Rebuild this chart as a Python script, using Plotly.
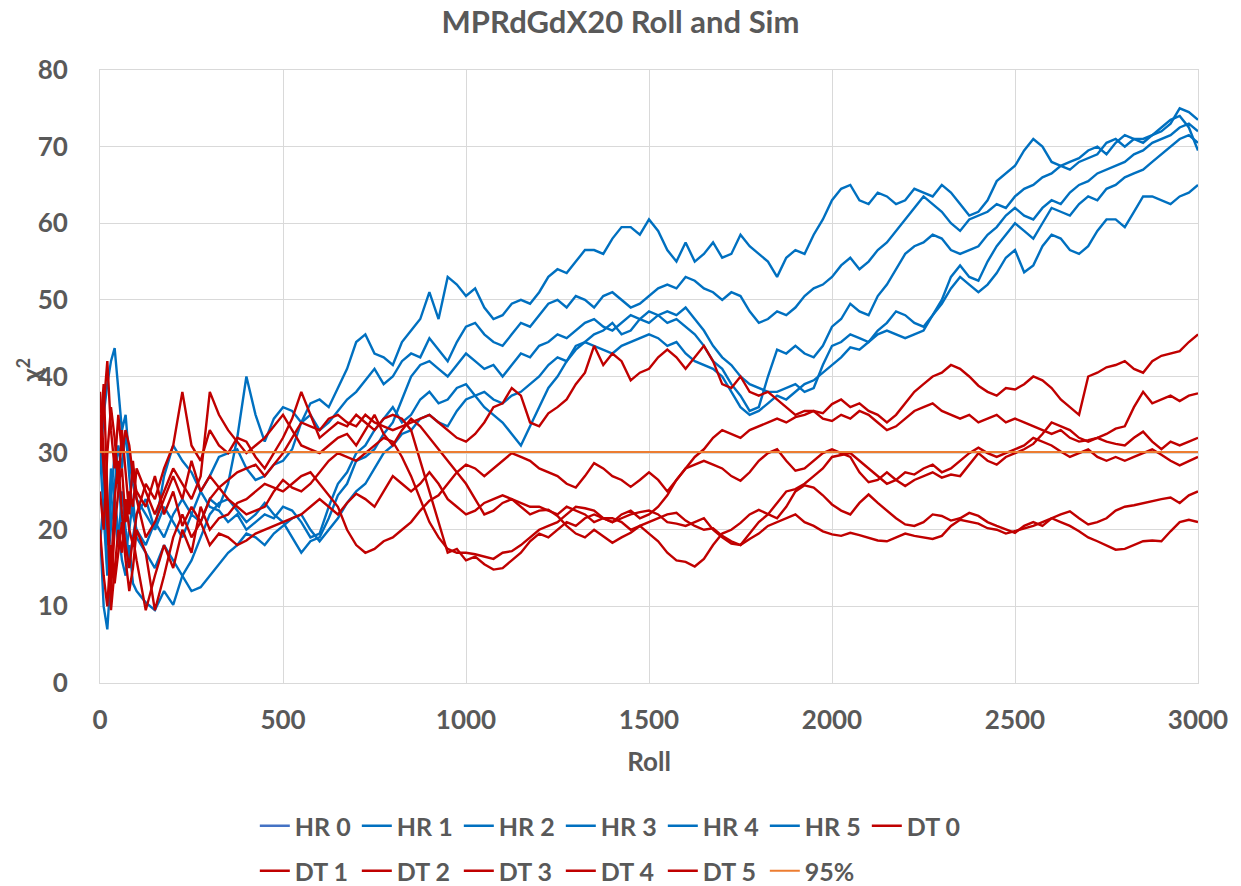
import plotly.graph_objects as go

rolls = [0, 10, 20, 30, 40, 50, 60, 70, 80, 90, 100, 125, 150, 175, 200, 225, 250, 275, 300] \
        + list(range(325, 3001, 25))

hr0 = []  # listed in the legend, no visible line in the reference

hr1 = [18, 24, 15, 20, 26, 31, 28, 33, 27, 22, 20, 18, 21, 19, 22, 24, 22, 25, 27,
       29.5, 30, 30.5, 28, 26.5, 27, 28.5, 29, 30.5, 34, 36.5, 37, 36, 38.5, 41, 44.5, 45.5, 43, 42.5, 41.5,
       44.5, 46, 47.5, 51, 47.5, 53, 52, 50.5,
       51.5, 49, 47.5, 48, 49.5, 50, 49.5, 51, 53, 54, 53.5, 55, 56.5, 56.5, 56, 58, 59.5, 59.5, 58.5, 60.5,
       59, 56.5, 55, 57.5, 55, 56, 57.5, 55.5, 56, 58.5, 57, 56, 55, 53, 55.5, 56.5, 56, 58.5, 60.5, 63,
       64.5, 65, 63, 62.5, 64, 63.5, 62.5, 63, 64.5, 64, 63.5, 65, 64, 62.5, 61, 61.5, 63, 65.5, 66.5, 67.5,
       69.5, 71, 70, 68, 67.5, 67, 68, 68.5, 69, 70.5, 71, 70, 71, 71, 71.5, 72.5, 73.5, 74, 72.5, 69.5]

hr2 = [28, 35, 39, 42, 43.7, 38, 33, 35, 29, 26, 24, 22, 20, 23, 21, 19, 22, 21, 24,
       23, 26, 32, 40, 35, 31.5, 34.5, 36, 35.5, 34, 35, 33, 34, 35.5, 37, 38, 39.5, 41, 39, 40,
       42, 43, 42.5, 45, 43.5, 42, 44.5, 46.5,
       47, 45.5, 44.5, 44, 45.5, 47, 46.5, 48, 49.5, 50, 49, 50.5, 50, 49, 50.5, 51, 50, 49, 49.5, 50.5,
       51.5, 52, 51.5, 53, 52.5, 51.5, 51, 50, 51, 50.5, 48.5, 47, 47.5, 48.5, 48, 49, 50.5, 51.5, 52, 53,
       54.5, 55.5, 54, 55, 56.5, 57.5, 59, 60.5, 62, 63.5, 62.5, 61.5, 60, 59, 60.5, 61, 61.5, 62.5, 62, 63.5,
       64.5, 65, 66, 66.5, 67.5, 68, 68.5, 69.5, 70, 69, 70.5, 71.5, 71, 70.5, 71.5, 72, 73, 75, 74.5, 73.5]

hr3 = [20, 10, 7, 15, 22, 18, 25, 20, 16, 19, 22, 24, 20, 27, 31, 29, 27.5, 25, 23,
       22.5, 21, 22, 20, 21, 22, 21.5, 23, 22.5, 21, 19, 19.5, 23, 26, 27.5, 30, 31, 33, 34.5, 36,
       34, 35, 37, 38, 36.5, 37, 38.5, 39,
       37.5, 36, 35, 34, 32.5, 31, 33.5, 36, 38.5, 40, 42, 44, 44.5, 45.5, 46, 47, 45.5, 46, 47.5, 48.5,
       48, 47, 47.5, 46.5, 45.5, 44, 42, 41, 39, 37.5, 35.5, 36, 40, 43.5, 43, 44, 43, 42.5, 44, 46.5,
       47.5, 49.5, 48.5, 48, 50.5, 52, 54, 56, 57, 57.5, 58.5, 58, 56.5, 56, 56.5, 57, 58.5, 59.5, 61, 62,
       61, 60.5, 62, 63, 62.5, 64, 65, 65.5, 66.5, 67, 67.5, 68, 69, 69.5, 70.5, 71, 71.5, 72.5, 73, 72]

hr4 = [35, 26, 18, 28, 24, 20, 16, 14, 18, 13, 12, 10.5, 9.5, 12, 10.2, 14, 16, 19, 22,
       23.5, 24, 22.5, 21, 22, 23.5, 22, 21, 19, 17, 18.5, 19, 21.5, 24.5, 26, 29, 29.5, 30.5, 32.5, 34,
       37, 40, 41.5, 42, 41, 40, 41.5, 43,
       42, 41, 41.5, 40, 41.5, 43, 42.5, 44, 44.5, 45.5, 45, 46, 47, 47.5, 46.5, 46, 47, 48, 47.5, 47,
       48, 48.5, 48, 49, 47.5, 46, 44, 42.5, 41.5, 40, 39, 38.5, 38, 38, 38.5, 39, 38, 38.5, 41.5, 44,
       44.5, 45.5, 45, 44.5, 46, 47, 48.5, 48, 47, 46.5, 48, 50, 53, 54.5, 53, 52.5, 55, 57, 58.5, 60,
       59, 58, 60, 62, 61.5, 61, 62.5, 63.5, 63, 64.5, 65, 66, 66.5, 67, 68, 69, 70, 71, 71.5, 70.5]

hr5 = [30, 22, 14, 24, 30, 26, 21, 17, 20, 24, 19, 17, 15, 18, 16, 14, 12, 12.5, 14,
       15.5, 17, 18, 19.5, 19, 18, 19.5, 20.5, 21.5, 22, 20, 18.5, 20, 21.5, 23.5, 25, 26, 28, 30, 31,
       32.5, 33, 34.5, 35, 34, 33.5, 35.5, 37,
       37.5, 38, 37, 36.5, 37.5, 38, 39, 40, 41.5, 42.5, 42, 43.5, 44.5, 44, 43.5, 43, 44, 44.5, 45, 45.5,
       45, 44, 44.5, 43, 42, 41.5, 41, 40, 38, 36, 35, 35.5, 36.5, 37.5, 37, 38, 39, 39.5, 40.5, 41.5,
       42.5, 43.8, 43.5, 44.5, 45.5, 46, 45.5, 45, 45.5, 46, 48, 49.5, 51.5, 53, 52, 51, 52, 53.5, 55.5, 56.5,
       53.6, 54.5, 57, 58.5, 58, 56.5, 56, 57, 59, 60.5, 60.5, 59.5, 61.5, 63.5, 63.5, 63, 62.5, 63.5, 64, 65]

dt0 = [30, 36, 42, 33, 28, 35, 30, 33, 31, 27, 25, 23, 27, 22, 25, 20.5, 23, 21, 24,
       25.5, 26.5, 27.5, 28, 28.5, 27, 28.5, 30, 32, 34, 33.5, 33, 34.5, 35, 34, 33.5, 35, 34, 33.5, 33,
       33.5, 34, 34.5, 35, 34, 33, 32, 31.5,
       32.5, 34, 36, 36.5, 38.5, 37.5, 34, 33.5, 35.2, 36, 37, 39, 40.5, 44, 41.5, 43, 42, 39.5, 40.5, 41,
       42.5, 43.5, 42.5, 41, 42.5, 44, 42, 39, 38.5, 40, 38, 37.5, 38, 37, 36, 35, 35.5, 35.5, 34.5, 34.2,
       35, 34.5, 35.5, 35, 34, 33, 33.5, 34.5, 35.5, 36, 36.5, 35.5, 35, 34.5, 35, 34, 34.5, 35, 34, 34.5,
       34, 33.5, 33, 32.5, 33, 32, 31.5, 31.7, 32, 32.5, 33.2, 33.5, 36, 38, 36.5, 37, 37.5, 36.8, 37.5, 37.8]

dt1 = [38, 30, 22, 9.5, 15, 20, 17, 24, 20, 18, 22, 26, 24, 28, 31, 38, 31, 29, 33,
       31, 30, 32, 31.5, 29.5, 28, 30, 32, 34.5, 38, 35, 32, 33, 34, 33.5, 35, 34, 33, 34.5, 35,
       34.5, 33, 29, 25, 21, 17, 17.5, 16,
       16.5, 15.5, 14.8, 15, 16, 17, 18.5, 19.5, 19, 20, 21, 20.5, 21.5, 22, 21.5, 21, 22, 22.5, 21.5, 22,
       23, 24.5, 26.5, 28, 29.5, 30.5, 32, 33, 32.5, 32, 33, 33.5, 34, 34.5, 34, 34.7, 35, 35.5, 35.2, 36.4,
       37, 36, 36.5, 35.5, 35, 34, 35, 36.5, 38, 39, 40, 40.5, 41.5, 41, 40, 38.8, 38, 37.5, 38.5, 38.3,
       39, 40, 39.5, 38.5, 37, 36, 35, 40, 40.5, 41.2, 41.5, 42, 41, 40.5, 42, 42.7, 43, 43.3, 44.5, 45.5]

dt2 = [35, 28, 20, 14, 24, 29, 22, 18, 15, 19, 16, 9.5, 14, 18, 15, 20, 17, 23, 20,
       21.5, 22, 23.5, 24, 25, 26, 25.5, 25, 26, 27, 27.5, 26, 24.5, 23, 20, 18, 17, 17.5, 18.5, 19,
       20, 21, 22.5, 23.8, 24.5, 26, 27.5, 28.5,
       28, 27, 28, 29, 30, 29.5, 29, 28, 27.5, 27, 26, 25.5, 27, 28.7, 28, 27, 26.5, 25.6, 26.5, 27.5,
       26.5, 25, 26.5, 28, 28.5, 29, 28.5, 28, 27, 26.4, 27.5, 29, 30, 30.5, 29, 27.7, 28, 29, 30, 30.5,
       30, 29.5, 27.5, 26.2, 26.5, 27.5, 26.5, 25.7, 26.5, 27, 27.5, 26.8, 27.2, 27, 28.5, 30, 29, 28.5, 29.5, 30,
       30.5, 31.2, 32.5, 34, 33.5, 33, 32, 31.5, 32, 31.5, 31.2, 31, 32, 32.8, 31.5, 30.5, 31.5, 31, 31.5, 32]

dt3 = [25, 20, 30, 36, 32, 26, 28, 21, 25, 23, 28, 25, 22, 25, 28, 26, 24, 27, 38,
       35, 33, 31.5, 30, 31, 32, 33.5, 35, 33, 31, 30.5, 30, 31, 32, 32.5, 31, 33, 35, 32.5, 31,
       33, 34.5, 33.5, 32, 30.5, 29, 27.5, 26,
       24, 22, 22.5, 23.5, 24, 23, 22, 22.5, 22.6, 21.8, 20.5, 19.5, 19, 20, 19.2, 18.3, 19, 19.6, 20.5, 21,
       21.5, 22, 22.2, 21.2, 20.5, 20, 20.2, 19.2, 18.5, 18, 19.5, 21, 22, 23.5, 25, 25.3, 26, 27, 28, 29.5,
       29.8, 30, 29, 28, 27, 26, 26.5, 27.5, 27.2, 28, 28.5, 27.5, 28, 29, 30, 30.7, 30, 29.5, 30, 30.5,
       31, 32, 31.5, 31, 30.2, 29.5, 30, 30.5, 29.5, 29, 29.5, 29, 29.5, 30, 30.5, 29.8, 29, 28.4, 29, 29.5]

dt4 = [20, 14, 10, 18, 13, 17, 21, 16, 12, 15, 20, 17, 9.5, 14, 19, 22, 19, 21, 18,
       19.5, 19, 18, 18.6, 19.5, 20, 20.5, 21, 21.5, 22, 23, 24, 23, 22, 23.5, 24.7, 24, 23, 25, 27,
       26, 25, 26, 27.5, 26, 24, 23, 22,
       22.5, 23.5, 24, 24.5, 24, 23.5, 23, 23, 22.5, 22, 23, 22.5, 22, 21, 21.5, 21.5, 21, 20, 20.5, 19.5,
       18.5, 17, 16, 15.8, 15.2, 16.2, 18, 19.5, 20, 20.9, 22, 22.6, 22, 21.5, 23, 25, 25.8, 25.5, 24.5, 23.3,
       22.5, 22, 23.5, 24.6, 23.5, 22.5, 21.5, 20.7, 20.5, 21, 22, 21.8, 21.2, 21.5, 22.2, 21.8, 21, 20.5, 20, 19.6,
       20.5, 21, 20.5, 21.5, 22, 22.4, 21.5, 20.7, 21, 21.5, 22.5, 23, 23.2, 23.5, 23.8, 24, 24.2, 23.5, 24.5, 25]

dt5 = [32, 39, 25, 12, 20, 25, 33, 28, 22, 29, 24, 19, 21, 24, 27, 24, 29, 25, 27,
       25.5, 24, 23, 22, 22.5, 23, 25, 26.5, 25.5, 25, 26, 27.5, 29, 30, 29.5, 29, 30, 31, 32, 31.5,
       29.5, 27, 24, 21, 19, 17.5, 17, 17,
       16.8, 16.5, 16.2, 17, 17.2, 18, 19, 20, 20.5, 21, 22, 23, 22.8, 22.5, 21.5, 21, 21.5, 22, 22.3, 22.5,
       22, 21, 20.8, 20.5, 21, 21.5, 20, 19, 18.2, 18, 18.8, 19.5, 20.5, 21, 21.5, 22, 21, 20.5, 19.8, 19.4,
       19.2, 19.6, 19.3, 19, 18.6, 18.5, 19, 19.5, 19.2, 19, 18.8, 19.2, 20.5, 21.3, 21, 20.8, 20.2, 20, 19.5, 19.8,
       20.2, 20.5, 21, 21.5, 21, 20.5, 19.8, 19, 18.5, 18, 17.4, 17.5, 18, 18.5, 18.6, 18.5, 19.8, 21, 21.3, 21]

for _s in (hr1, hr2, hr3, hr4, hr5, dt0, dt1, dt2, dt3, dt4, dt5):
    assert len(_s) == len(rolls), len(_s)

p95_value = 30.14  # 95% threshold

x_ticks = [0, 500, 1000, 1500, 2000, 2500, 3000]
y_ticks = [0, 10, 20, 30, 40, 50, 60, 70, 80]

HR0_COLOR = "#4472C4"
BLUE = "#0070C0"
RED = "#C00000"
ORANGE = "#ED7D31"
TEXT = "#595959"
GRID = "#D9D9D9"
FONT = "Lato, 'Open Sans', sans-serif"
LW = 2.4

# figure is offset by the page's 8px body margin, so it is sized to fit the window
W, H = 1233, 878
L, R, T, B = 92, 43, 62, 203
plot_h = H - T - B

fig = go.Figure()

fig.add_trace(go.Scatter(x=rolls[:len(hr0)] or [None], y=hr0 or [None], name="HR 0", mode="lines",
                         line=dict(color=HR0_COLOR, width=LW), legend="legend"))
for name, vals in [("HR 1", hr1), ("HR 2", hr2), ("HR 3", hr3), ("HR 4", hr4), ("HR 5", hr5)]:
    fig.add_trace(go.Scatter(x=rolls, y=vals, name=name, mode="lines",
                             line=dict(color=BLUE, width=LW), legend="legend"))
for i, (name, vals) in enumerate([("DT 0", dt0), ("DT 1", dt1), ("DT 2", dt2),
                                  ("DT 3", dt3), ("DT 4", dt4), ("DT 5", dt5)]):
    fig.add_trace(go.Scatter(x=rolls, y=vals, name=name, mode="lines",
                             line=dict(color=RED, width=LW),
                             legend="legend" if i == 0 else "legend2"))
fig.add_trace(go.Scatter(x=rolls, y=[p95_value] * len(rolls), name="95%", mode="lines",
                         line=dict(color=ORANGE, width=2), legend="legend2"))

legend_common = dict(orientation="h", x=0.141, xanchor="left", yanchor="middle",
                     entrywidth=57, entrywidthmode="pixels",
                     font=dict(family=FONT, size=25, color=TEXT, weight=700),
                     bgcolor="rgba(0,0,0,0)", tracegroupgap=0)

fig.update_layout(
    width=W, height=H,
    margin=dict(l=L, r=R, t=T, b=B, autoexpand=False),
    paper_bgcolor="white", plot_bgcolor="white",
    font=dict(family=FONT, size=26, color=TEXT, weight=700),
    title=dict(text="MPRdGdX20 Roll and Sim", x=0.5 - 4 / W, xanchor="center",
               y=1 - 3 / H, yanchor="top", yref="container", pad=dict(t=0),
               font=dict(family=FONT, size=31, color=TEXT, weight=700)),
    xaxis=dict(range=[0, 3000], tickmode="array", tickvals=x_ticks,
               ticktext=[str(t) for t in x_ticks],
               showgrid=True, gridcolor=GRID, gridwidth=1,
               showline=True, linecolor=GRID, linewidth=1, mirror=True,
               zeroline=False, ticks="", ticklabelstandoff=14,
               title=dict(text="Roll", standoff=18,
                          font=dict(family=FONT, size=26, color=TEXT, weight=700))),
    yaxis=dict(range=[0, 80], tickmode="array", tickvals=y_ticks,
               ticktext=[str(t) for t in y_ticks],
               showgrid=True, gridcolor=GRID, gridwidth=1,
               showline=True, linecolor=GRID, linewidth=1, mirror=True,
               zeroline=False, ticks="", ticklabelstandoff=26),
    legend=dict(y=(675 - 818) / plot_h, **legend_common),
    legend2=dict(y=(675 - 863) / plot_h, **legend_common),
    showlegend=True,
    annotations=[dict(text="χ<sup>2</sup>", xref="paper", yref="paper",
                      x=(21 - L) / (W - L - R), y=0.51, xanchor="center", yanchor="middle",
                      textangle=-90, showarrow=False,
                      font=dict(family=FONT, size=26, color=TEXT, weight=700))],
)

fig.write_html("out.html")
